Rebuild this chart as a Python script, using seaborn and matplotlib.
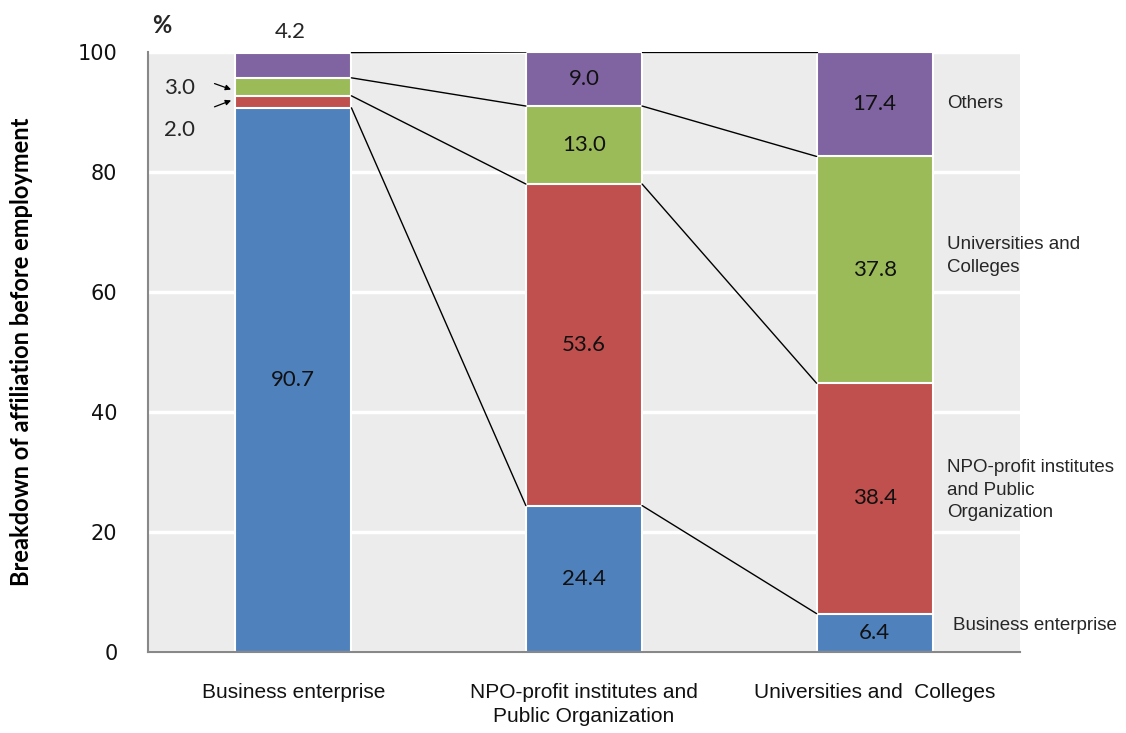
import matplotlib
matplotlib.use('Agg')
import matplotlib.pyplot as plt
import numpy as np
import pandas as pd
import seaborn as sns

# Datos
categorias = ['Business enterprise', 'NPO-profit institutes and\nPublic Organization', 'Universities and  Colleges']
business = [90.7, 24.4, 6.4]
npo = [2.0, 53.6, 38.4]
universidades = [3.0, 13.0, 37.8]
otros = [4.2, 9.0, 17.4]

series = ['Business enterprise', 'NPO-profit institutes\nand Public\nOrganization', 'Universities and\nColleges', 'Others']
colores = ['#4F81BD', '#C0504D', '#9BBB59', '#8064A2']

sns.set_theme(style='white')
plt.rcParams['font.family'] = ['DejaVu Sans']

valores = np.array([business, npo, universidades, otros])
acumulado = np.cumsum(valores, axis=0)

fig = plt.figure(figsize=(11.26, 7.33), dpi=100)
ax = fig.add_axes([0.1314, 0.1105, 0.7745, 0.8185])
ax.set_facecolor('#ececec')
ax.set_axisbelow(True)
ax.yaxis.grid(True, color='white', linewidth=2.5)

# barras apiladas: de la mayor acumulada a la menor
for i in range(3, -1, -1):
    df = pd.DataFrame({'cat': categorias, 'val': acumulado[i]})
    sns.barplot(data=df, x='cat', y='val', color=colores[i], width=0.4,
                edgecolor='white', linewidth=1.5, saturation=1, ax=ax, zorder=2)

# etiquetas dentro de las barras
for j in range(3):
    for i in range(4):
        if valores[i, j] < 5:
            continue
        centro = acumulado[i, j] - valores[i, j] / 2
        ax.text(j, centro, f'{valores[i, j]:.1f}', ha='center', va='center',
                fontsize=16, family='Lato', color='#111111', zorder=5)

# etiquetas de los segmentos pequeños
ax.text(-0.01, 103.4, f'{otros[0]:.1f}', ha='center', va='center', fontsize=16, family='Lato', clip_on=False)
ax.text(-0.39, 94.0, f'{universidades[0]:.1f}', ha='center', va='center', fontsize=16, family='Lato')
ax.text(-0.39, 87.0, f'{npo[0]:.1f}', ha='center', va='center', fontsize=16, family='Lato')
ax.annotate('', xy=(-0.205, 93.6), xytext=(-0.28, 94.9),
            arrowprops=dict(arrowstyle='-|>', color='black', lw=0.9, mutation_scale=8))
ax.annotate('', xy=(-0.205, 92.1), xytext=(-0.28, 90.7),
            arrowprops=dict(arrowstyle='-|>', color='black', lw=0.9, mutation_scale=8))

# líneas de conexión entre barras
for j in range(2):
    for i in range(4):
        ax.plot([j + 0.2, j + 0.8], [acumulado[i, j], acumulado[i, j + 1]],
                color='black', linewidth=1, zorder=3)

# etiquetas de serie a la derecha
y_series = [4.5, 27.0, 66.0, 91.5]
for nombre, yy in zip(series, y_series):
    ax.text(2.25 if nombre != 'Business enterprise' else 2.27, yy, nombre, ha='left', va='center',
            fontsize=13.5, family='Liberation Sans', linespacing=1.45, zorder=5)

ax.set_xlim(-0.5, 2.5)
ax.set_ylim(0, 100)
ax.set_yticks([0, 20, 40, 60, 80, 100])
ax.set_xlabel('')
ax.set_ylabel('Breakdown of affiliation before employment', fontsize=17,
              fontweight='bold', family='Lato', color='black')
ax.yaxis.set_label_coords(-0.132, 0.5)
ax.tick_params(axis='y', length=0, pad=22, labelsize=15, labelcolor='#111111')
ax.tick_params(axis='x', length=0, pad=22, labelcolor='#111111')
for lbl in ax.get_xticklabels():
    lbl.set_family('Liberation Sans')
    lbl.set_fontsize(15)
    lbl.set_linespacing(1.35)

for lado in ['top', 'right']:
    ax.spines[lado].set_visible(False)
for lado in ['left', 'bottom']:
    ax.spines[lado].set_color('#888888')
    ax.spines[lado].set_linewidth(1.5)

fig.text(0.135, 0.965, '%', fontsize=17, fontweight='bold', family='Lato', ha='left', va='center')

fig.savefig('out.png', dpi=100, facecolor='white')
